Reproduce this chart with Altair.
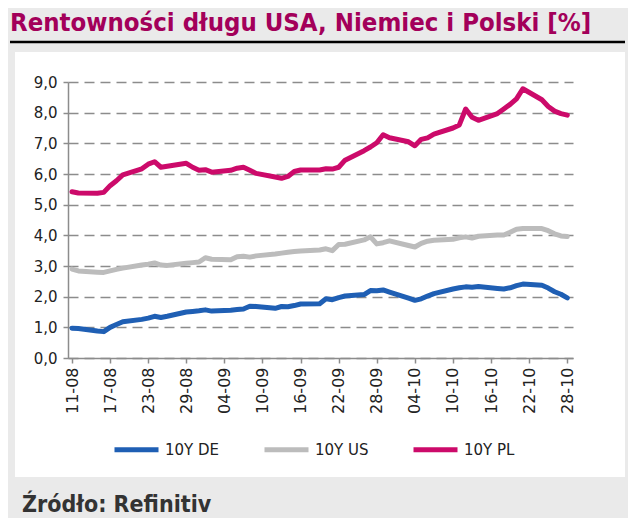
import altair as alt
import pandas as pd

DATES = ["2022-08-11","2022-08-12","2022-08-15","2022-08-16","2022-08-17","2022-08-18","2022-08-19",
         "2022-08-22","2022-08-23","2022-08-24","2022-08-25","2022-08-26","2022-08-29","2022-08-30","2022-08-31",
         "2022-09-01","2022-09-02","2022-09-05","2022-09-06","2022-09-07","2022-09-08","2022-09-09",
         "2022-09-12","2022-09-13","2022-09-14","2022-09-15","2022-09-16","2022-09-19","2022-09-20","2022-09-21",
         "2022-09-22","2022-09-23","2022-09-26","2022-09-27","2022-09-28","2022-09-29","2022-09-30",
         "2022-10-03","2022-10-04","2022-10-05","2022-10-06","2022-10-07","2022-10-10","2022-10-11","2022-10-12",
         "2022-10-13","2022-10-14","2022-10-17","2022-10-18","2022-10-19","2022-10-20","2022-10-21","2022-10-24",
         "2022-10-25","2022-10-26","2022-10-27","2022-10-28"]

Y_DE = [0.97,0.96,0.88,0.86,1.00,1.09,1.18,1.26,1.30,1.36,1.32,1.36,1.50,1.52,1.54,
        1.57,1.53,1.56,1.58,1.60,1.69,1.68,1.62,1.68,1.67,1.71,1.76,1.77,1.93,1.90,1.97,2.02,2.07,2.20,2.19,2.22,2.15,
        1.95,1.88,1.93,2.02,2.10,2.25,2.29,2.32,2.31,2.33,2.27,2.25,2.29,2.36,2.41,2.37,2.28,2.16,2.08,1.96]

Y_US = [2.90,2.84,2.80,2.79,2.84,2.89,2.93,3.03,3.06,3.10,3.03,3.02,3.09,3.11,3.13,
        3.27,3.22,3.20,3.30,3.32,3.29,3.33,3.39,3.42,3.45,3.47,3.49,3.52,3.56,3.50,3.70,3.71,3.85,3.95,3.72,3.76,3.82,
        3.67,3.62,3.74,3.81,3.84,3.87,3.92,3.95,3.91,3.97,4.01,4.01,4.10,4.20,4.22,4.22,4.15,4.05,3.98,3.96]

Y_PL = [5.42,5.38,5.37,5.40,5.62,5.78,5.97,6.17,6.32,6.40,6.22,6.25,6.35,6.22,6.12,
        6.14,6.06,6.12,6.19,6.22,6.12,6.02,5.90,5.86,5.92,6.08,6.13,6.13,6.17,6.16,6.22,6.45,6.76,6.88,7.02,7.28,7.18,
        7.05,6.92,7.13,7.18,7.30,7.50,7.60,8.12,7.85,7.75,7.97,8.12,8.27,8.45,8.78,8.42,8.20,8.05,7.97,7.92]

SERIES = ["10Y DE", "10Y US", "10Y PL"]
COLORS = ["#1f5fb4", "#bcbcbc", "#cc0a6a"]
TICK_LABELS = ["11-08","17-08","23-08","29-08","04-09","10-09","16-09","22-09","28-09",
               "04-10","10-10","16-10","22-10","28-10"]
Y_TICKS = [0, 1, 2, 3, 4, 5, 6, 7, 8, 9]
TITLE = "Rentowności długu USA, Niemiec i Polski [%]"
SOURCE = "Źródło: Refinitiv"

start = pd.Timestamp(DATES[0])
days = [(pd.Timestamp(d) - start).days for d in DATES]
rows = []
for name, vals in zip(SERIES, [Y_DE, Y_US, Y_PL]):
    for d, dt, v in zip(days, DATES, vals):
        rows.append({"day": d, "date": dt, "series": name, "value": v})
df = pd.DataFrame(rows)

FONT = "DejaVu Sans"
COND = '"DejaVu Sans Condensed", "DejaVu Sans"'
W, H = 505, 276
GRAY_BG = "#eaeaea"
AX = "#8c8c8c"

label_arr = "[" + ",".join("'%s'" % t for t in TICK_LABELS) + "]"

lines = alt.Chart(df).mark_line(strokeWidth=5, strokeCap="round", strokeJoin="round").encode(
    x=alt.X("day:Q",
            scale=alt.Scale(domain=[-0.63, 78.9], nice=False, zero=False),
            axis=alt.Axis(values=[i * 6 for i in range(len(TICK_LABELS))],
                          labelExpr=label_arr + "[round(datum.value/6)]",
                          labelAngle=270, labelFontSize=16, labelFont=FONT, labelColor="#222222",
                          tickSize=5, tickColor=AX, domainColor=AX, domainWidth=1.5, tickWidth=1.5,
                          labelPadding=4, grid=False, title=None)),
    y=alt.Y("value:Q",
            scale=alt.Scale(domain=[0, 9], nice=False),
            axis=alt.Axis(values=Y_TICKS,
                          labelExpr="replace(format(datum.value, '.1f'), '.', ',')",
                          labelFontSize=15, labelFont=FONT, labelColor="#222222",
                          tickSize=5, tickColor=AX, tickWidth=1.5, domainColor=AX, domainWidth=1.5,
                          labelPadding=6, grid=True, gridDash=[10, 6], gridColor=AX, gridWidth=1.5,
                          title=None)),
    color=alt.Color("series:N",
                    scale=alt.Scale(domain=SERIES, range=COLORS),
                    legend=alt.Legend(orient="none", legendX=44, legendY=343, direction="horizontal",
                                      title=None, symbolType="stroke", symbolSize=1936,
                                      symbolStrokeWidth=5, labelFontSize=15, labelFont=FONT,
                                      labelColor="#222222", columnPadding=34, labelOffset=4, padding=0)),
    detail="series:N",
)

one = pd.DataFrame({"k": [0]})
def grect(x1, x2, y1, y2):
    return alt.Chart(one).mark_rect(color=GRAY_BG).encode(
        x=alt.value(x1), x2=alt.value(x2), y=alt.value(y1), y2=alt.value(y2))

bg = [grect(-60, 560, -74, -30), grect(-60, -53, -30, 395), grect(557, 560, -30, 395), grect(-60, 560, 395, 436)]

title = alt.Chart(one).mark_text(text=TITLE, align="left", baseline="alphabetic", fontSize=25.5,
                                 font=COND, fontWeight="bold",
                                 color="#a3005a").encode(x=alt.value(-58), y=alt.value(-51))
rule = alt.Chart(one).mark_rule(color="#000000", strokeWidth=2.5).encode(
    x=alt.value(-58), x2=alt.value(557), y=alt.value(-40))
source = alt.Chart(one).mark_text(text=SOURCE, align="left", baseline="alphabetic", fontSize=23,
                                  font=COND, fontWeight="bold",
                                  color="#333333").encode(x=alt.value(-46), y=alt.value(430))

chart = alt.layer(*bg, lines, title, rule, source).properties(
    width=W, height=H,
    background="white",
    padding={"left": 60, "top": 74, "right": 55, "bottom": 160},
    autosize=alt.AutoSizeParams(type="none"),
).configure_view(stroke=None)

chart.save("out.html", embed_options={"renderer": "svg", "actions": False})
